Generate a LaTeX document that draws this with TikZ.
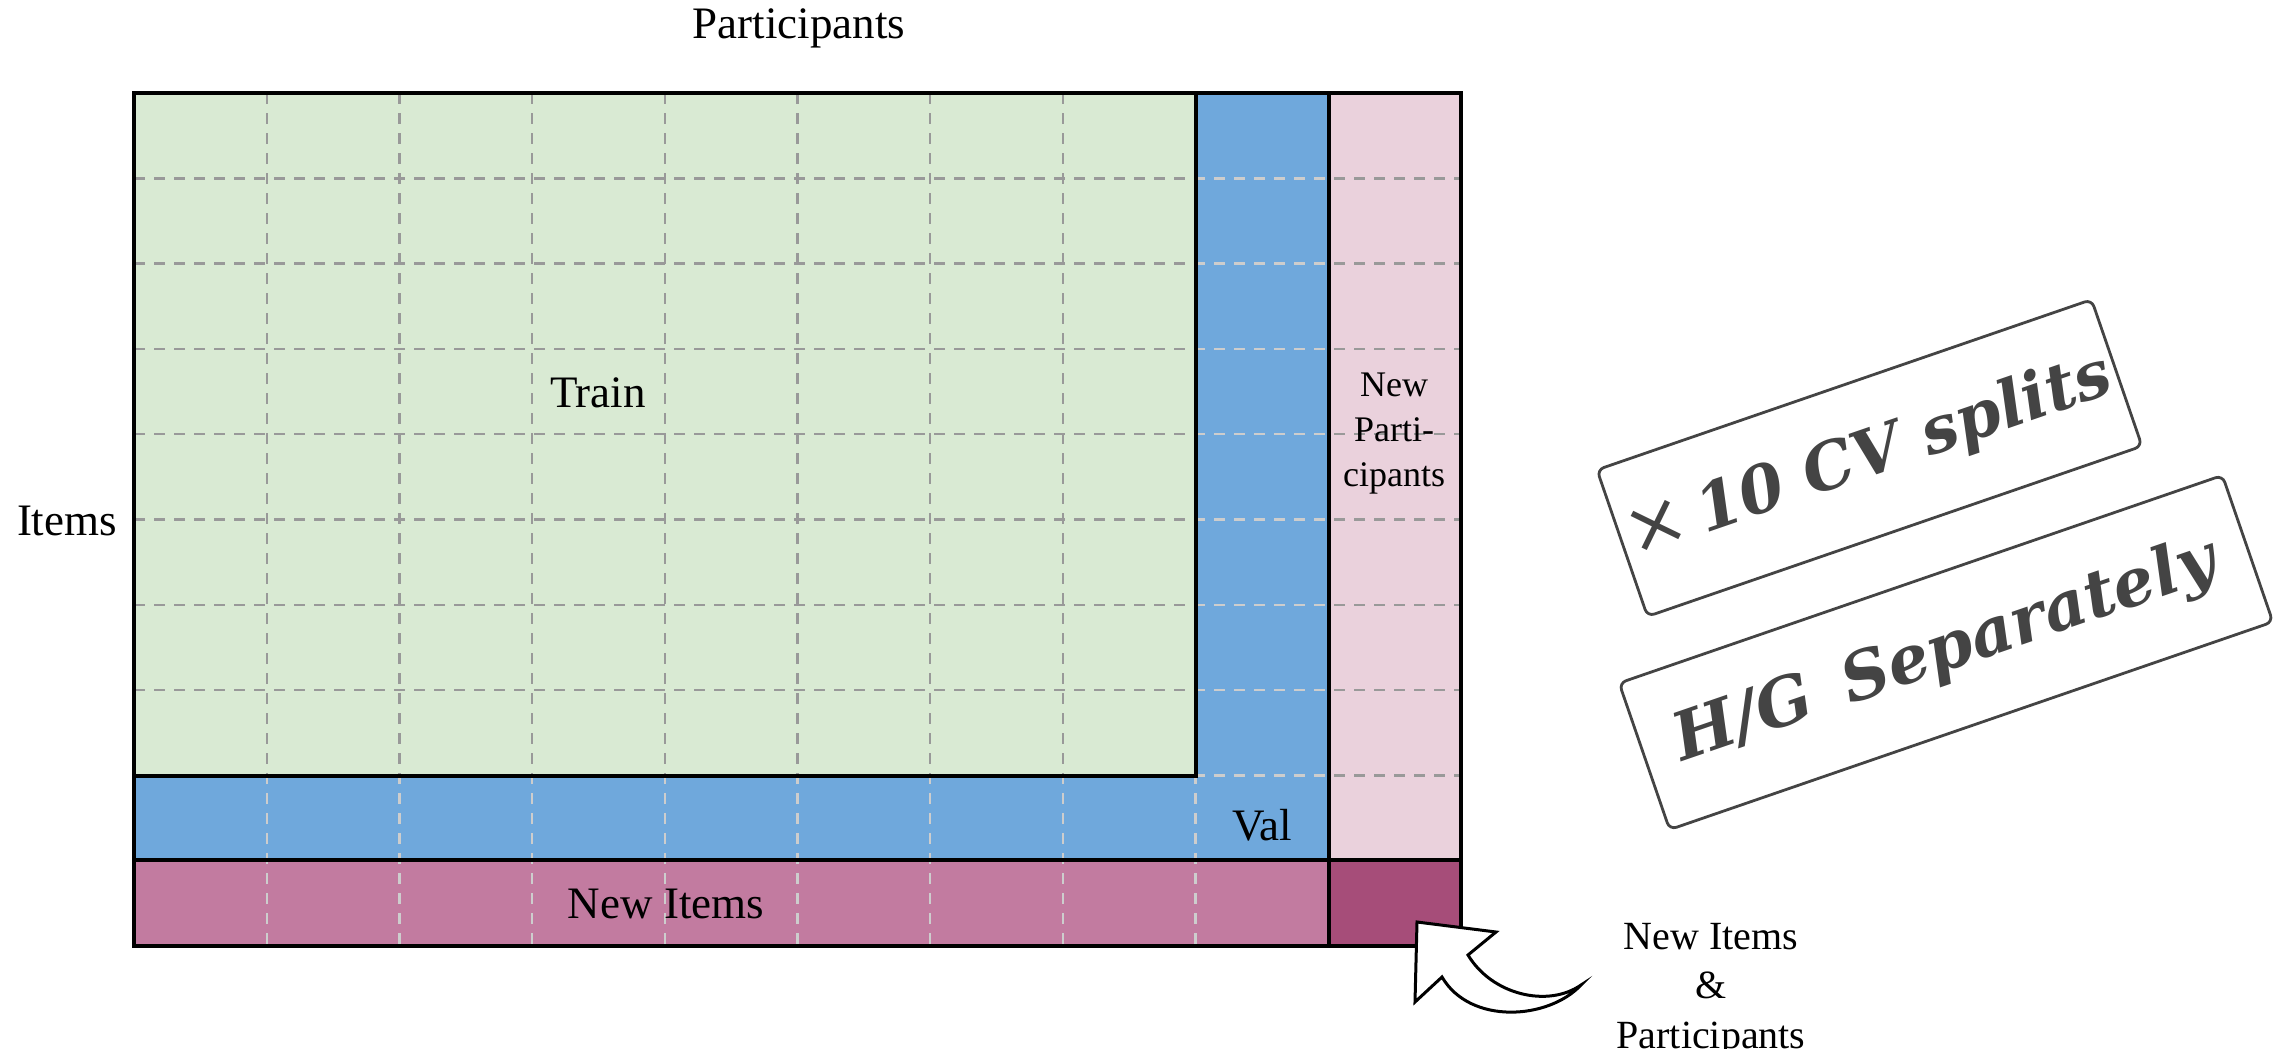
\documentclass[tikz,border=0pt]{standalone}
\usepackage{fontspec}
\setmainfont{Liberation Serif}
\newfontfamily\tagfont{DejaVu Serif}

\definecolor{trainfill}{HTML}{D9EAD3}
\definecolor{valfill}{HTML}{6FA8DC}
\definecolor{newpfill}{HTML}{EAD1DC}
\definecolor{newifill}{HTML}{C27BA0}
\definecolor{bothfill}{HTML}{A64D79}
\definecolor{darkdash}{HTML}{999999}
\definecolor{lightdash}{HTML}{CDCDCD}
\definecolor{taggray}{HTML}{444444}

\tikzset{
  frame/.style={draw=black, line width=0.8pt},
  gridline/.style={line width=0.6pt, dash pattern=on 2.7pt off 2.3pt},
  label/.style={inner sep=0pt, font=\fontsize{11.25}{13.5}\selectfont},
  smalllabel/.style={inner sep=0pt, align=center, font=\fontsize{9}{11.25}\selectfont},
  sidelabel/.style={inner sep=0pt, align=center, font=\fontsize{10}{12.3}\selectfont},
  tagbox/.style={draw=taggray, line width=0.7pt, rounded corners=1.8pt,
    text=taggray, inner sep=0pt, minimum width=130.75pt, minimum height=38.75pt},
  blockarrow/.style={draw=black, fill=white, line width=0.75pt, line join=miter}
}

% dashed cell grid, 10 x 10 cells
\newcommand\cellgrid[1]{%
  \foreach \i in {1,...,9}{%
    \draw[gridline, #1] ({134+132.7*\i},93) -- ({134+132.7*\i},946);
    \draw[gridline, #1] (134,{93+85.3*\i}) -- (1461,{93+85.3*\i});
  }%
}

\begin{document}
\begin{tikzpicture}[x=0.25pt, y=-0.25pt]
\useasboundingbox (0,0) rectangle (2282,1049);

% split regions
\fill[trainfill] (134,93) rectangle (1196,776);
\fill[valfill] (1196,93) rectangle (1329,860);
\fill[valfill] (134,776) rectangle (1196,860);
\fill[newpfill] (1329,93) rectangle (1461,860);
\fill[newifill] (134,860) rectangle (1329,946);
\fill[bothfill] (1329,860) rectangle (1461,946);

% grid over the light regions
\begin{scope}
  \clip (134,93) rectangle (1196,776) (1329,93) rectangle (1461,860);
  \cellgrid{darkdash}
\end{scope}
% grid over the dark regions
\begin{scope}
  \clip (1196,93) rectangle (1329,860) (134,776) rectangle (1196,860)
        (134,860) rectangle (1461,946);
  \cellgrid{lightdash}
\end{scope}

% region borders
\draw[frame] (134,93) rectangle (1461,946);
\draw[frame] (134,776) -- (1196,776) -- (1196,93);
\draw[frame] (1329,93) -- (1329,946);
\draw[frame] (134,860) -- (1461,860);

% labels
\node[label] (participants) at (799,28) {Participants};
\node[label] (items) at (67,521) {Items};
\node[label] (train) at (598,393) {Train};
\node[label] (val) at (1262,825) {Val};
\node[label] (newitems) at (666,904) {New Items};
\node[smalllabel] (newparts) at (1394,434) {New\\Parti-\\cipants};
\node[sidelabel] (both) at (1711,990) {New Items\\\&\\Participants};

% curved block arrow pointing at the corner cell
\draw[blockarrow] (1417,922) -- (1496,932) -- (1468,955)
  .. controls (1492,995) and (1548,1008) .. (1581,985)
  .. controls (1548,1020) and (1470,1025) .. (1442,977)
  -- (1415,1002) -- cycle;

% tilted tags
\node[tagbox, rotate=19] (cv) at (1869.5,458)
  {\tagfont\fontsize{18.5}{20}\selectfont ×\,\bfseries\itshape\fontsize{16.2}{20}\selectfont 10 CV splits};
\node[tagbox, rotate=19, minimum width=159.5pt] (hg) at (1946,652.5)
  {\tagfont\bfseries\itshape\fontsize{16.5}{20}\selectfont H/G\, Separately};
\end{tikzpicture}
\end{document}
